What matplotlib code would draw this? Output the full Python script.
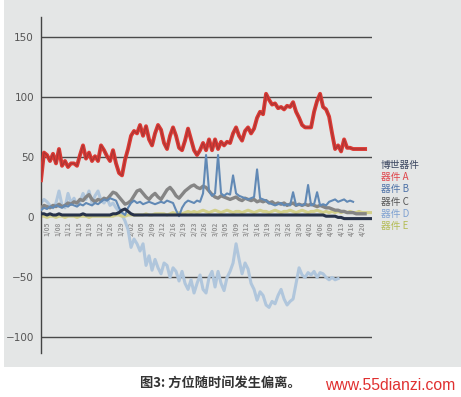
import numpy as np
import matplotlib
matplotlib.use("Agg")
import matplotlib.pyplot as plt
from matplotlib.patches import Rectangle

plt.rcParams['font.family'] = ['Noto Sans CJK SC', 'DejaVu Sans']

# ---------------- data ----------------
series_a = [31, 54, 52, 47, 53, 45, 57, 43, 47, 42, 45, 45, 43, 52, 60, 49, 54, 47, 51, 47,
            60, 56, 51, 47, 56, 45, 37, 35, 48, 57, 68, 72, 70, 77, 68, 76, 65, 60, 70, 77,
            73, 62, 57, 68, 75, 68, 58, 56, 64, 74, 65, 56, 52, 56, 62, 56, 65, 56, 65, 57,
            63, 60, 63, 62, 70, 75, 68, 64, 72, 75, 70, 74, 83, 88, 86, 103, 98, 94, 95, 91,
            92, 90, 93, 92, 96, 88, 83, 77, 75, 75, 75, 88, 97, 103, 92, 90, 84, 70, 57, 60,
            55, 65, 58, 58, 57, 57, 57, 57, 57]

series_bosch = [3, 3, 2, 3, 2, 2, 3, 2, 2, 2, 2, 2, 2, 2, 3, 2, 2, 2, 2, 2,
                2, 2, 2, 2, 3, 3, 4, 6, 7, 5, 3, 2, 2, 2, 2, 2, 2, 2, 2, 2,
                2, 2, 2, 2, 2, 2, 2, 2, 2, 2, 2, 2, 2, 2, 2, 2, 2, 2, 2, 2,
                2, 2, 2, 2, 2, 2, 2, 2, 2, 2, 2, 2, 2, 2, 2, 2, 2, 2, 2, 2,
                2, 2, 2, 2, 2, 2, 2, 2, 2, 2, 2, 2, 2, 2, 2, 1, 1, 1, 1, 0,
                0, -1, -1, -1, -1, -1, -1, -1, -1, -1, -1]

series_c = [8, 10, 9, 8, 10, 9, 11, 9, 10, 12, 11, 13, 12, 15, 14, 17, 19, 15, 13, 15,
            14, 16, 15, 18, 21, 20, 17, 14, 11, 12, 14, 18, 22, 23, 20, 17, 15, 18, 20, 17,
            15, 19, 23, 25, 22, 18, 16, 19, 22, 24, 26, 27, 25, 24, 26, 25, 22, 19, 17, 16,
            18, 17, 16, 15, 16, 17, 15, 14, 16, 15, 14, 15, 13, 14, 13, 14, 12, 13, 11, 12,
            11, 12, 10, 11, 12, 10, 11, 10, 11, 10, 11, 10, 9, 10, 9, 8, 8, 7, 6, 6,
            5, 5, 4, 4, 4, 3, 3, 3, 3]

series_b = [6, 8, 7, 9, 8, 10, 9, 8, 10, 9, 11, 10, 9, 11, 10, 12, 11, 10, 12, 11,
            13, 15, 14, 16, 15, 14, 8, 4, 2, 8, 12, 14, 12, 13, 11, 12, 13, 12, 11, 12,
            13, 12, 14, 13, 12, 6, 1, 8, 12, 14, 13, 12, 14, 13, 20, 52, 22, 18, 20, 52,
            20, 18, 20, 19, 35, 20, 18, 17, 16, 15, 16, 17, 40, 16, 15, 14, 12, 11, 10, 11,
            12, 10, 11, 10, 21, 10, 11, 10, 11, 27, 10, 11, 21, 10, 11, 10, 13, 14, 15, 13,
            14, 15, 13, 14, 13]

series_d = [12, 15, 13, 10, 8, 12, 22, 10, 8, 20, 12, 16, 10, 13, 20, 15, 22, 12, 18, 22,
            14, 12, 16, 10, 12, 8, 5, 2, -3, -10, -25, -18, -22, -28, -22, -40, -32, -44, -35, -42,
            -47, -38, -40, -50, -42, -45, -53, -45, -55, -60, -52, -63, -55, -48, -60, -63, -50, -45, -58, -45,
            -55, -61, -50, -45, -38, -22, -35, -47, -38, -43, -55, -60, -69, -62, -65, -73, -75, -70, -72, -65,
            -60, -68, -73, -70, -68, -55, -42, -48, -50, -46, -48, -45, -50, -46, -47, -50, -52, -50, -52, -51]

series_e = [1, 1, 0, 1, 1, 0, 1, 1, 0, 1, 1, 1, 0, 1, 1, 1, 0, 1, 1, 1,
            1, 1, 1, 1, 1, 2, 2, 1, 1, 2, 2, 2, 2, 2, 2, 3, 2, 2, 3, 3,
            3, 3, 2, 3, 4, 3, 4, 3, 4, 5, 4, 5, 4, 5, 6, 5, 4, 5, 6, 5,
            4, 5, 6, 5, 4, 5, 5, 4, 5, 6, 5, 4, 5, 6, 5, 5, 4, 5, 6, 5,
            4, 5, 5, 6, 5, 4, 5, 6, 5, 4, 5, 5, 6, 5, 4, 5, 4, 5, 4, 5,
            4, 5, 4, 5, 4, 4, 5, 4, 4, 4, 4]

legend_labels = ["博世器件", "器件 A", "器件 B", "器件 C", "器件 D", "器件 E"]
y_ticks = [-100, -50, 0, 50, 100, 150]
y_tick_labels = ["−100", "−50", "0", "50", "100", "150"]
x_tick_labels = ["1/05", "1/08", "1/12", "1/15", "1/19", "1/22", "1/26", "1/29", "2/02", "2/05",
                 "2/09", "2/12", "2/16", "2/19", "2/23", "2/26", "3/02", "3/05", "3/09", "3/12",
                 "3/16", "3/19", "3/23", "3/26", "3/30", "4/02", "4/06", "4/09", "4/13", "4/16",
                 "4/20"]
caption = "图3: 方位随时间发生偏离。"
watermark = "www.55dianzi.com"

# ---------------- figure ----------------
W, H = 461, 397
fig = plt.figure(figsize=(W / 100, H / 100), dpi=100)
fig.patch.set_facecolor("white")
fig.patches.append(Rectangle((4 / W, 1 - 367 / H), 1 - 4 / W, 367 / H,
                             transform=fig.transFigure, facecolor="#e4e6e6",
                             edgecolor="none", zorder=-10))

left, right = 41 / W, 372 / W
bottom, top = 1 - 353 / H, 1 - 17 / H
ax = fig.add_axes([left, bottom, right - left, top - bottom])
ax.set_zorder(5)
ax.set_facecolor("none")
ax.set_xlim(0, 110.3)
ax.set_ylim(-113, 167)

for yv in [-100, -50, 50, 100, 150]:
    ax.axhline(yv, color="#4a4a4a", lw=1.0, zorder=1)

col_a = "#dc3a34"
col_bosch = "#27324a"
col_b = "#6189b5"
col_c = "#858585"
col_d = "#b0c6dc"
col_e = "#d2cf8a"

ax.plot(np.arange(len(series_d)), series_d, color=col_d, lw=2.2, zorder=2, solid_joinstyle="round")
ax.plot(np.arange(len(series_e)), series_e, color=col_e, lw=2.2, zorder=2)
ax.plot(np.arange(len(series_c)), series_c, color=col_c, lw=2.4, zorder=3, solid_joinstyle="round")
ax.plot(np.arange(len(series_b)), series_b, color=col_b, lw=1.5, zorder=3, solid_joinstyle="round")
ax.plot(np.arange(len(series_bosch)), series_bosch, color=col_bosch, lw=2.2, zorder=4)
ax.plot(np.arange(len(series_a)), series_a, color=col_a, lw=2.8, zorder=5, solid_joinstyle="round")
ax.plot(np.arange(len(series_a)), series_a, color="#9a3434", lw=0.9, alpha=0.7, zorder=6)

# spines
for s in ["top", "right"]:
    ax.spines[s].set_visible(False)
ax.spines["left"].set_color("#444444")
ax.spines["left"].set_linewidth(1.0)
ax.spines["bottom"].set_position(("data", 0))
ax.spines["bottom"].set_visible(False)

ax.set_yticks(y_ticks)
ax.set_yticklabels(y_tick_labels, fontsize=7.5, color="#555555", family=["DejaVu Sans"])
ax.tick_params(axis="y", length=0, pad=5)

xt = [2 + 3.5 * k for k in range(len(x_tick_labels))]
ax.set_xticks(xt)
ax.set_xticklabels(x_tick_labels, rotation=90, fontsize=4.8, color="#959595",
                   fontweight="bold")
ax.tick_params(axis="x", length=0, pad=3)

# legend as text
ly = [165, 177, 189, 202, 214, 226]
lcols = ["#3a4660", "#e0444a", "#4f73a8", "#555555", "#7fa2d2", "#b4bc55"]
for lab, yy, cc in zip(legend_labels, ly, lcols):
    fig.text(381 / W, 1 - yy / H, lab, fontsize=7, color=cc, va="center", ha="left")

fig.text(220 / W, 1 - 383 / H, caption, fontsize=9.5, fontweight="bold",
         color="#333333", ha="center", va="center")
fig.text(390 / W, 1 - 385 / H, watermark, fontsize=11.3, color="#e03030",
         ha="center", va="center", family=["Liberation Sans", "DejaVu Sans"])

fig.savefig("out.png", dpi=100, facecolor=fig.get_facecolor())
